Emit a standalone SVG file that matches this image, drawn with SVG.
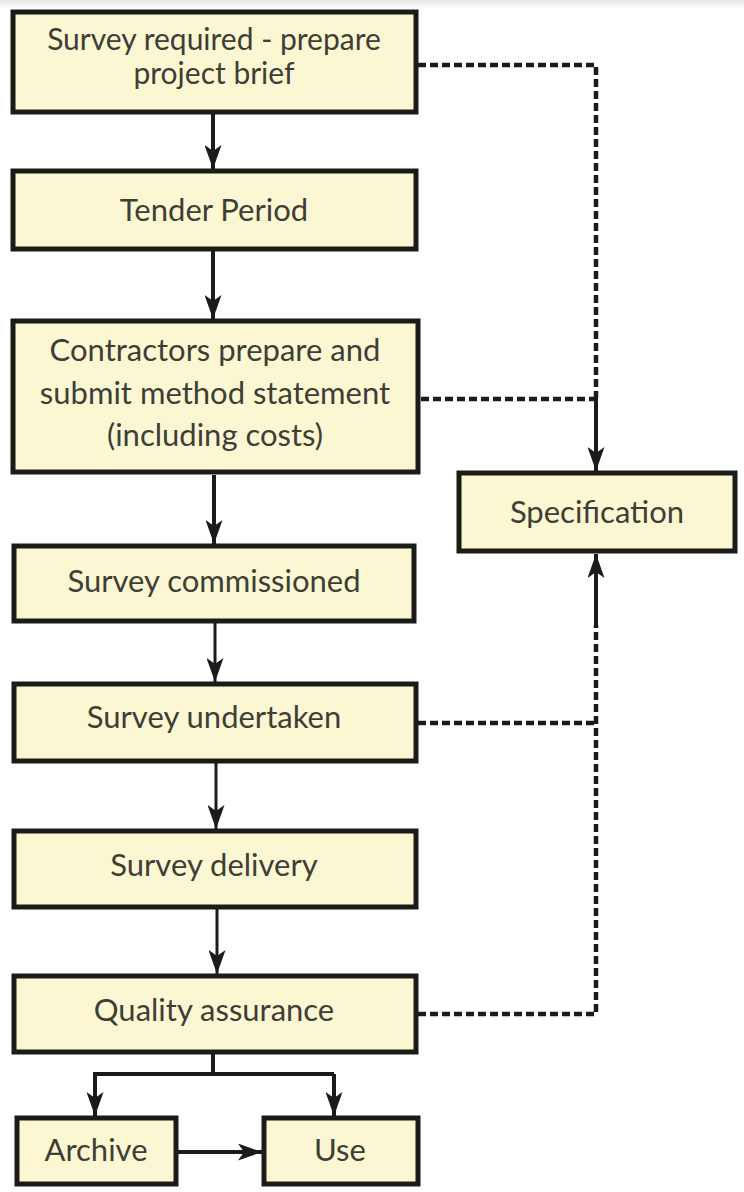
<svg xmlns="http://www.w3.org/2000/svg" width="744" height="1192" viewBox="0 0 744 1192">
  <defs>
    <linearGradient id="topband" x1="0" y1="0" x2="0" y2="1">
      <stop offset="0" stop-color="#e4e4e4"/>
      <stop offset="1" stop-color="#ffffff"/>
    </linearGradient>
    <marker id="arr" markerUnits="userSpaceOnUse" viewBox="0 0 24 17" markerWidth="24" markerHeight="17" refX="24" refY="8.5" orient="auto">
      <path d="M0,0 L24,8.5 L0,17 L6,8.5 z" fill="#1b1b1b"/>
    </marker>
    <style>
      .box { fill: #fbf7d2; stroke: #1b1b17; stroke-width: 5; }
      .lbl { font-family: Lato, "Open Sans", "Liberation Sans", sans-serif; font-size: 31px; fill: #3e3e36; text-anchor: middle; }
      .lbl2 { font-size: 30px; }
      .solid { fill: none; stroke: #1b1b1b; stroke-width: 4; }
      .thin { fill: none; stroke: #1b1b1b; stroke-width: 3; }
      .dash { fill: none; stroke: #1b1b1b; stroke-width: 4.5; stroke-dasharray: 8 4; }
    </style>
  </defs>
  <rect x="0" y="0" width="744" height="1192" fill="#ffffff"/>
  <rect x="0" y="0" width="744" height="9" fill="url(#topband)"/>

  <g id="connectors">
    <line class="solid" x1="213" y1="114" x2="213" y2="169" marker-end="url(#arr)"/>
    <line class="solid" x1="213" y1="251" x2="213" y2="319" marker-end="url(#arr)"/>
    <line class="solid" x1="214" y1="475" x2="214" y2="544" marker-end="url(#arr)"/>
    <line class="thin" x1="215" y1="623" x2="215" y2="682" marker-end="url(#arr)"/>
    <line class="thin" x1="216" y1="763" x2="216" y2="829" marker-end="url(#arr)"/>
    <line class="thin" x1="217" y1="909" x2="217" y2="974" marker-end="url(#arr)"/>
    <path class="solid" d="M213,1054 V1074 M93,1074 H334"/>
    <line class="solid" x1="95" y1="1074" x2="95" y2="1116" marker-end="url(#arr)"/>
    <line class="solid" x1="334" y1="1074" x2="334" y2="1116" marker-end="url(#arr)"/>
    <line class="solid" x1="178" y1="1152" x2="262" y2="1152" marker-end="url(#arr)"/>
    <path class="dash" d="M418,65 H596 V398"/>
    <path class="dash" d="M421,399 H596"/>
    <line class="solid" x1="596" y1="398" x2="596" y2="471" marker-end="url(#arr)"/>
    <path class="dash" d="M418,723 H596"/>
    <path class="dash" d="M418,1014 H596 V625"/>
    <line class="solid" x1="596" y1="626" x2="596" y2="554" marker-end="url(#arr)"/>
  </g>

  <g id="n1">
    <rect class="box" x="13" y="12" width="403" height="100"/>
    <text class="lbl lbl2" x="214" y="50">Survey required - prepare</text>
    <text class="lbl lbl2" x="214" y="84">project brief</text>
  </g>
  <g id="n2">
    <rect class="box" x="13" y="171" width="403" height="78"/>
    <text class="lbl" x="214" y="221">Tender Period</text>
  </g>
  <g id="n3">
    <rect class="box" x="13" y="321" width="405" height="151"/>
    <text class="lbl" x="215" y="361">Contractors prepare and</text>
    <text class="lbl" x="215" y="404">submit method statement</text>
    <text class="lbl" x="215" y="446">(including costs)</text>
  </g>
  <g id="spec">
    <rect class="box" x="459" y="473" width="276" height="78"/>
    <text class="lbl" x="597" y="523">Specification</text>
  </g>
  <g id="n4">
    <rect class="box" x="14" y="546" width="400" height="75"/>
    <text class="lbl" x="214" y="592">Survey commissioned</text>
  </g>
  <g id="n5">
    <rect class="box" x="14" y="684" width="402" height="77"/>
    <text class="lbl" x="214" y="728">Survey undertaken</text>
  </g>
  <g id="n6">
    <rect class="box" x="14" y="831" width="402" height="76"/>
    <text class="lbl" x="214" y="876">Survey delivery</text>
  </g>
  <g id="n7">
    <rect class="box" x="14" y="976" width="402" height="76"/>
    <text class="lbl" x="214" y="1021">Quality assurance</text>
  </g>
  <g id="archive">
    <rect class="box" x="17" y="1118" width="159" height="66"/>
    <text class="lbl" x="96" y="1161">Archive</text>
  </g>
  <g id="use">
    <rect class="box" x="264" y="1118" width="154" height="66"/>
    <text class="lbl" x="340" y="1161">Use</text>
  </g>
</svg>
